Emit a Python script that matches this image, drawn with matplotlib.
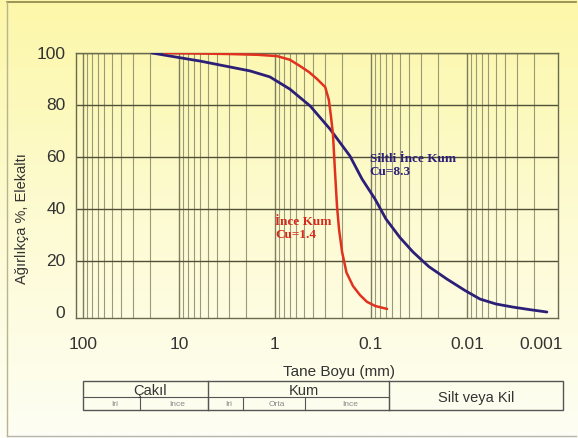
import matplotlib.pyplot as plt
import numpy as np
from matplotlib.ticker import LogLocator, NullFormatter, FixedLocator
from matplotlib.patches import Rectangle
import matplotlib.transforms as mtransforms

W, H = 578, 439

# Siltli ince kum (mavi)
silt_d = [19.1, 11.0, 6.04, 3.32, 1.82, 1.13, 0.70, 0.43, 0.267, 0.166, 0.124,
          0.0908, 0.0698, 0.0500, 0.0365, 0.0250, 0.0162, 0.0105, 0.00733,
          0.00500, 0.00332, 0.00220, 0.00147]
silt_p = [100, 98.5, 96.9, 95.0, 93.1, 90.8, 86.1, 79.6, 70.7, 60.4, 51.5,
          43.8, 36.1, 29.0, 23.4, 17.8, 13.0, 8.6, 5.3,
          3.4, 2.2, 1.2, 0.3]

# İnce kum (kırmızı)
kum_d = [14.0, 6.0, 2.94, 1.5, 0.953, 0.70, 0.55, 0.44, 0.365, 0.30, 0.275,
         0.262, 0.249, 0.237, 0.226, 0.215, 0.200, 0.180, 0.154, 0.130,
         0.110, 0.090, 0.068]
kum_p = [100, 99.8, 99.6, 99.3, 98.8, 97.4, 95.0, 92.6, 90.0, 86.9, 82.0,
         76.0, 68.8, 54.2, 41.1, 32.0, 23.4, 15.5, 10.3, 6.8,
         4.2, 2.6, 1.5]

x_ticks = [100, 10, 1, 0.1, 0.01, 0.001]
x_labels = ['100', '10', '1', '0.1', '0.01', '0.001']
y_ticks = [0, 20, 40, 60, 80, 100]

# tablo: (etiket, sol, sag) piksel
main_cells = [('Çakıl', 83, 208), ('Kum', 208, 389)]
sub_cells = [('Iri', 83, 140), ('Ince', 140, 208), ('Iri', 208, 243),
             ('Orta', 243, 305), ('Ince', 305, 389)]

fig = plt.figure(figsize=(W / 100, H / 100), dpi=100)

# arka plan gradyani
bg = fig.add_axes([0, 0, 1, 1], zorder=0)
top = np.array([252, 247, 168]) / 255
mid = np.array([253, 251, 210]) / 255
bot = np.array([254, 254, 244]) / 255
t = np.linspace(0, 1, 200)[:, None]
grad = np.where(t < 0.5, top + (mid - top) * (t / 0.5), mid + (bot - mid) * ((t - 0.5) / 0.5))
bg.imshow(grad[:, None, :], extent=[0, W, H, 0], aspect='auto')
bg.set_xlim(0, W)
bg.set_ylim(H, 0)
bg.axis('off')

# cerceve
bg.plot([7, 576], [3, 3], color='#8c8348', lw=1.2)
bg.plot([7, 7], [3, 437], color='#b9b490', lw=1.0)
bg.plot([7, 576], [437, 437], color='#b5b5b0', lw=1.0)

# ana grafik
L, R, T, B = 76, 558, 54, 319
ax = fig.add_axes([L / W, 1 - B / H, (R - L) / W, (B - T) / H], zorder=1)
ax.patch.set_alpha(0)
ax.set_xscale('log')
ax.set_xlim(118.3, 0.001127)
ax.set_ylim(-2, 100)

ax.xaxis.set_major_locator(LogLocator(base=10, numticks=12))
ax.xaxis.set_minor_locator(LogLocator(base=10, subs=np.arange(2, 10), numticks=12))
ax.xaxis.set_major_formatter(NullFormatter())
ax.xaxis.set_minor_formatter(NullFormatter())
ax.yaxis.set_major_locator(FixedLocator([20, 40, 60, 80, 100]))
ax.set_yticklabels([])
ax.tick_params(which='both', length=0)

ax.grid(which='major', axis='x', color='#7c7c5c', lw=1.0)
ax.grid(which='minor', axis='x', color='#9a9a76', lw=0.8)
ax.grid(which='major', axis='y', color='#505038', lw=1.0)
for s in ax.spines.values():
    s.set_color('#6a6a50')
    s.set_linewidth(1.0)

ax.plot(silt_d, silt_p, color='#2c1f78', lw=2.0, solid_capstyle='round', zorder=3)
ax.plot(kum_d, kum_p, color='#e0321e', lw=1.8, solid_capstyle='round', zorder=3)

ax.text(0.103, 57, 'Siltli İnce Kum\nCu=8.3', color='#2c1f78', fontsize=9.5,
        fontweight='bold', family='Liberation Serif', linespacing=1.1,
        va='center', ha='left')
ax.text(0.99, 33, 'İnce Kum\nCu=1.4', color='#d42a1c', fontsize=9.5,
        fontweight='bold', family='Liberation Serif', linespacing=1.1,
        va='center', ha='left')

# eksen etiketleri
trans = mtransforms.blended_transform_factory(ax.transData, ax.transAxes)
for v, lab in zip(x_ticks, x_labels):
    ha = 'right' if v == 0.001 else 'center'
    ax.text(v, -0.095, lab, transform=trans, ha=ha, va='center', fontsize=12.5,
            color='#333333', family='Liberation Sans', clip_on=False)
for v in y_ticks:
    ax.text(-0.022, v, str(v), transform=ax.get_yaxis_transform(), ha='right',
            va='center', fontsize=12.5, color='#333333', family='Liberation Sans',
            clip_on=False)

fig.text(22 / W, 1 - 219 / H, 'Ağırlıkça %, Elekaltı', rotation=90, ha='center',
         va='center', fontsize=10.5, color='#333333', family='Liberation Sans')
fig.text(339 / W, 1 - 372 / H, 'Tane Boyu (mm)', ha='center', va='center',
         fontsize=11, color='#333333', family='Liberation Sans')

# tablo
tc = '#555555'
bg.add_patch(Rectangle((83, 382), 563 - 83, 411 - 382, fill=False, ec=tc, lw=1.0))
bg.plot([83, 389], [398, 398], color=tc, lw=0.8)
for lab, x0, x1 in main_cells:
    bg.plot([x1, x1], [382, 411], color=tc, lw=1.0)
    bg.text((x0 + x1) / 2 + 5, 391, lab, ha='center', va='center', fontsize=10.5,
            color='#333333', family='Liberation Sans')
for lab, x0, x1 in sub_cells:
    bg.plot([x1, x1], [398, 411], color=tc, lw=0.8)
    bg.text((x0 + x1) / 2 + 3, 405, lab, ha='center', va='center', fontsize=6,
            color='#888888', family='Liberation Sans')
bg.text(476, 398, 'Silt veya Kil', ha='center', va='center', fontsize=10.5,
        color='#333333', family='Liberation Sans')

fig.savefig('out.png', dpi=100)
